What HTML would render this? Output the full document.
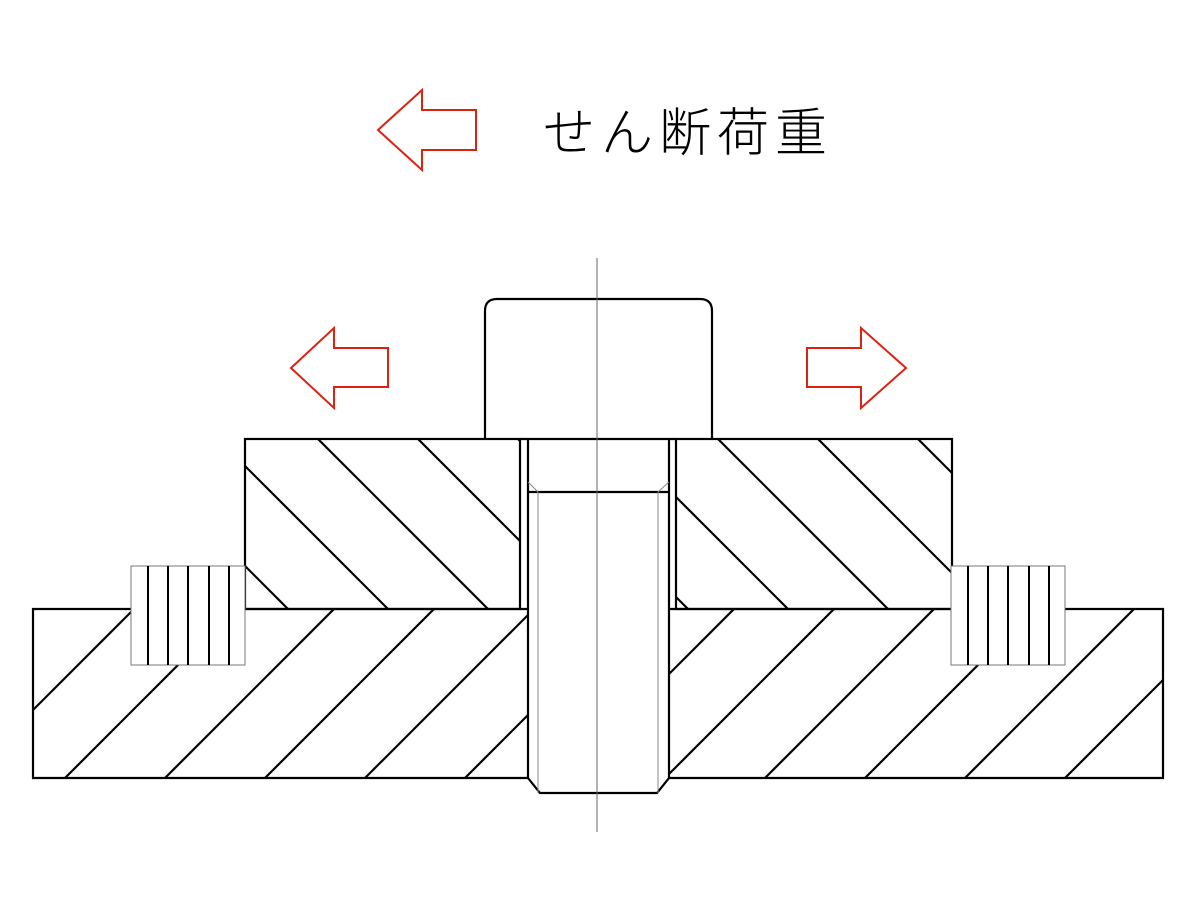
<!DOCTYPE html>
<html><head><meta charset="utf-8"><style>
html,body{margin:0;padding:0;background:#fff;}
svg{display:block}
</style></head><body>
<svg width="1200" height="900" viewBox="0 0 1200 900" xmlns="http://www.w3.org/2000/svg">
<defs>
<clipPath id="ul"><rect x="245" y="439" width="275" height="170"/></clipPath>
<clipPath id="ur"><rect x="676" y="439" width="276" height="170"/></clipPath>
<clipPath id="bl"><rect x="33" y="609" width="495" height="169"/></clipPath>
<clipPath id="br"><rect x="669" y="609" width="494" height="169"/></clipPath>
</defs>
<rect width="1200" height="900" fill="#fff"/>
<g stroke="#000" stroke-width="2.2" fill="none">
<g clip-path="url(#ul)">
<line x1="118" y1="439" x2="288" y2="609"/>
<line x1="218" y1="439" x2="388" y2="609"/>
<line x1="318" y1="439" x2="488" y2="609"/>
<line x1="418" y1="439" x2="588" y2="609"/>
<line x1="518" y1="439" x2="688" y2="609"/>
</g>
<g clip-path="url(#ur)">
<line x1="518" y1="439" x2="688" y2="609"/>
<line x1="618" y1="439" x2="788" y2="609"/>
<line x1="718" y1="439" x2="888" y2="609"/>
<line x1="818" y1="439" x2="988" y2="609"/>
<line x1="918" y1="439" x2="1088" y2="609"/>
</g>
<g clip-path="url(#bl)">
<line x1="34" y1="609" x2="-135" y2="778"/>
<line x1="134" y1="609" x2="-35" y2="778"/>
<line x1="234" y1="609" x2="65" y2="778"/>
<line x1="334" y1="609" x2="165" y2="778"/>
<line x1="434" y1="609" x2="265" y2="778"/>
<line x1="534" y1="609" x2="365" y2="778"/>
<line x1="634" y1="609" x2="465" y2="778"/>
</g>
<g clip-path="url(#br)">
<line x1="734" y1="609" x2="565" y2="778"/>
<line x1="834" y1="609" x2="665" y2="778"/>
<line x1="934" y1="609" x2="765" y2="778"/>
<line x1="1034" y1="609" x2="865" y2="778"/>
<line x1="1134" y1="609" x2="965" y2="778"/>
<line x1="1234" y1="609" x2="1065" y2="778"/>
<line x1="1334" y1="609" x2="1165" y2="778"/>
</g>
</g>
<g stroke="#000" stroke-width="2.2" fill="none">
<rect x="245" y="439" width="275" height="170"/>
<rect x="676" y="439" width="276" height="170"/>
<path d="M528 609 H33 V778 H528 M669 609 H1163 V778 H669"/>
<path d="M485 439 V311 Q485 299 497 299 H700 Q712 299 712 311 V439"/>
<path d="M520 439 H676"/>
<path d="M528 439 V778 L540 793 H657 L669 778 V439"/>
<line x1="528" y1="492" x2="669" y2="492"/>
</g>
<!-- inserts -->
<rect x="131" y="566" width="114" height="99" fill="#fff" stroke="#777" stroke-width="1"/>
<rect x="951" y="566" width="114" height="99" fill="#fff" stroke="#777" stroke-width="1"/>
<g stroke="#000" stroke-width="2">
<line x1="148" y1="566" x2="148" y2="665"/><line x1="168" y1="566" x2="168" y2="665"/>
<line x1="188" y1="566" x2="188" y2="665"/><line x1="209" y1="566" x2="209" y2="665"/>
<line x1="229" y1="566" x2="229" y2="665"/>
<line x1="968" y1="566" x2="968" y2="665"/><line x1="988" y1="566" x2="988" y2="665"/>
<line x1="1008" y1="566" x2="1008" y2="665"/><line x1="1029" y1="566" x2="1029" y2="665"/>
<line x1="1049" y1="566" x2="1049" y2="665"/>
</g>
<g stroke="#888" stroke-width="1" fill="none">
<line x1="538" y1="492" x2="538" y2="793"/>
<line x1="658" y1="492" x2="658" y2="793"/>
<line x1="528" y1="482" x2="538" y2="492"/>
<line x1="669" y1="482" x2="658" y2="492"/>
<line x1="597" y1="258" x2="597" y2="832" stroke="#666"/>
</g>
<g stroke="#d21" stroke-width="2" fill="none" stroke-linejoin="miter">
<polygon points="378,130 422,90 422,110 476,110 476,150 422,150 422,170"/>
<polygon points="291,368 334,328 334,348 388,348 388,387 334,387 334,408"/>
<polygon points="906,368 861,328 861,348 807,348 807,387 861,387 861,408"/>
</g>
<text x="543" y="151" font-family="'Liberation Sans','Noto Sans CJK JP',sans-serif" font-size="52" font-weight="300" letter-spacing="6" fill="#000">せん断荷重</text>
</svg>
</body></html>
